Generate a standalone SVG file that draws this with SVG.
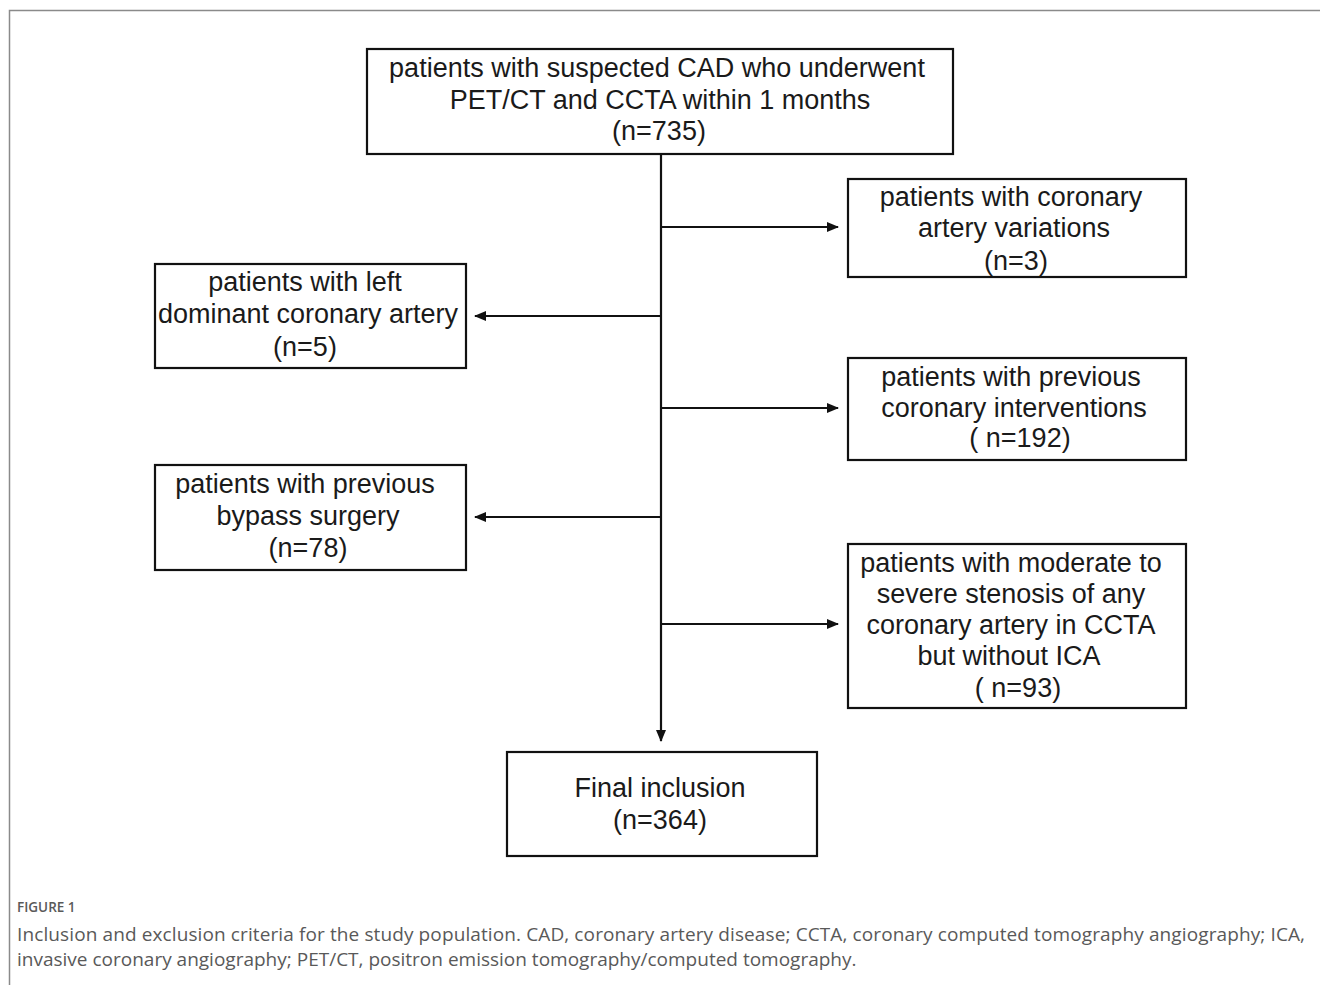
<svg xmlns="http://www.w3.org/2000/svg" width="1320" height="985" viewBox="0 0 1320 985">
<defs>
<style>
.box{fill:#fff;stroke:#111;stroke-width:2.2}
.t{font-family:"Liberation Sans",Arial,sans-serif;font-size:27px;fill:#1a1a1a;text-anchor:middle}
.c{stroke:#111;stroke-width:2.2;fill:none}
.cap{font-family:"Open Sans","Noto Sans",sans-serif;fill:#595959}
</style>
<marker id="ah" viewBox="0 0 12 10" refX="11" refY="5" markerWidth="12" markerHeight="10" markerUnits="userSpaceOnUse" orient="auto">
<path d="M0,0 L12,5 L0,10 Z" fill="#111"/>
</marker>
</defs>
<rect width="1320" height="985" fill="#fff"/>
<path d="M9.5,985 V10.5 H1320" fill="none" stroke="#8a8a8a" stroke-width="1.5"/>
<g id="connectors">
<line class="c" x1="661" y1="154" x2="661" y2="741" marker-end="url(#ah)"/>
<line class="c" x1="661" y1="227" x2="838" y2="227" marker-end="url(#ah)"/>
<line class="c" x1="661" y1="316" x2="475" y2="316" marker-end="url(#ah)"/>
<line class="c" x1="661" y1="408" x2="838" y2="408" marker-end="url(#ah)"/>
<line class="c" x1="661" y1="517" x2="475" y2="517" marker-end="url(#ah)"/>
<line class="c" x1="661" y1="624" x2="838" y2="624" marker-end="url(#ah)"/>
</g>
<g id="n_start">
<rect class="box" x="367" y="49" width="586" height="105"/>
<text class="t" x="657" y="77">patients with suspected CAD who underwent</text>
<text class="t" x="660" y="109">PET/CT and CCTA within 1 months</text>
<text class="t" x="659" y="140">(n=735)</text>
</g>
<g id="n_variations">
<rect class="box" x="848" y="179" width="338" height="98"/>
<text class="t" x="1011" y="206">patients with coronary</text>
<text class="t" x="1014" y="237">artery variations</text>
<text class="t" x="1016" y="270">(n=3)</text>
</g>
<g id="n_leftdom">
<rect class="box" x="155" y="264" width="311" height="104"/>
<text class="t" x="305" y="291">patients with left</text>
<text class="t" x="308" y="323">dominant coronary artery</text>
<text class="t" x="305" y="356">(n=5)</text>
</g>
<g id="n_interventions">
<rect class="box" x="848" y="358" width="338" height="102"/>
<text class="t" x="1011" y="386">patients with previous</text>
<text class="t" x="1014" y="417">coronary interventions</text>
<text class="t" x="1020" y="447">( n=192)</text>
</g>
<g id="n_bypass">
<rect class="box" x="155" y="465" width="311" height="105"/>
<text class="t" x="305" y="493">patients with previous</text>
<text class="t" x="308" y="525">bypass surgery</text>
<text class="t" x="308" y="557">(n=78)</text>
</g>
<g id="n_stenosis">
<rect class="box" x="848" y="544" width="338" height="164"/>
<text class="t" x="1011" y="572">patients with moderate to</text>
<text class="t" x="1011" y="603">severe stenosis of any</text>
<text class="t" x="1011" y="634">coronary artery in CCTA</text>
<text class="t" x="1009" y="665">but without ICA</text>
<text class="t" x="1018" y="697">( n=93)</text>
</g>
<g id="n_final">
<rect class="box" x="507" y="752" width="310" height="104"/>
<text class="t" x="660" y="797">Final inclusion</text>
<text class="t" x="660" y="829">(n=364)</text>
</g>
<g id="caption">
<text class="cap" x="17" y="912" font-size="13.5" font-weight="600" fill="#666">FIGURE 1</text>
<text class="cap" x="17" y="941" font-size="19" textLength="1288" lengthAdjust="spacing">Inclusion and exclusion criteria for the study population. CAD, coronary artery disease; CCTA, coronary computed tomography angiography; ICA,</text>
<text class="cap" x="17" y="966" font-size="19">invasive coronary angiography; PET/CT, positron emission tomography/computed tomography.</text>
</g>
</svg>
